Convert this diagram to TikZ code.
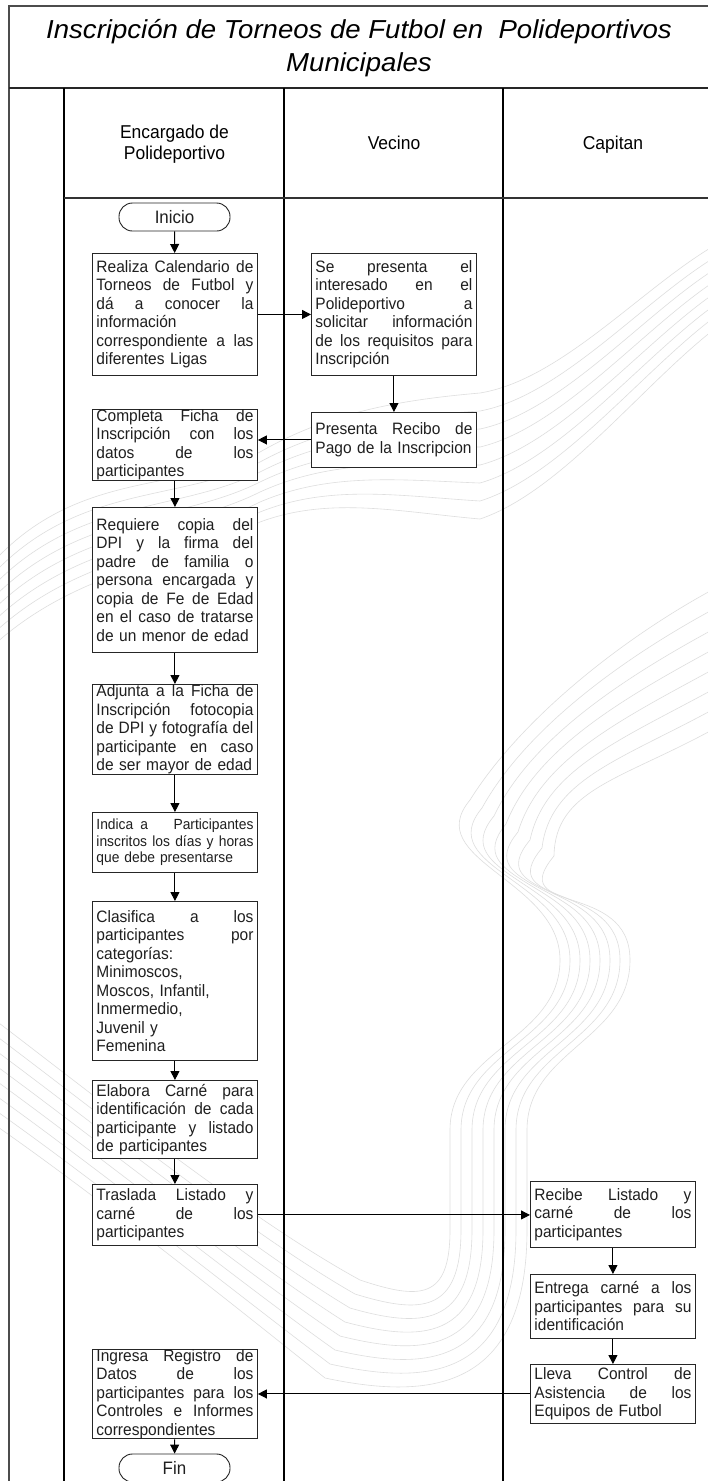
\documentclass[tikz,border=0pt]{standalone}
\usepackage{fontspec}
\setmainfont{Liberation Sans}[FakeStretch=0.94]
\newfontfamily\titlefont{Liberation Sans}[FakeStretch=1.06]
\usetikzlibrary{arrows.meta,calc}

% width of the text block inside every process box
\newlength\bw \setlength\bw{157pt}
% a fully justified line inside a box
\newcommand\jl[1]{\makebox[\bw][s]{\spaceskip=.28em plus 1fil\relax #1}}

\begin{document}
\begin{tikzpicture}[x=1pt,y=-1pt,
  every node/.style={font=\fontsize{16.5}{18.5}\selectfont},
  proc/.style={draw=black!85, fill=white, line width=0.9pt, minimum width=165pt,
    text width=157pt, inner xsep=4pt, inner ysep=0pt, align=left,
    anchor=north west, text=black!88},
  small/.style={font=\fontsize{14.7}{16.5}\selectfont},
  term/.style={draw=black!85, fill=white, line width=0.9pt, rounded corners=13.5pt,
    minimum width=111pt, minimum height=28pt, inner sep=0pt, text=black!88,
    font=\fontsize{18}{20}\selectfont},
  arr/.style={line width=1pt, -{Triangle[length=9pt,width=9pt]}},
  lane/.style={line width=1.3pt},
  frame/.style={line width=1.7pt, draw=black!70},
  head/.style={font=\fontsize{18.6}{20.5}\selectfont, align=center},
  wm/.style={draw=black!13, line width=0.6pt}
]
\useasboundingbox (0,0) rectangle (708,1481);
\fill[white] (0,0) rectangle (708,1481);

% faint background ribbons
\foreach \i in {0,...,7}{
  \draw[wm] (712,{247+12*\i}) .. controls (640,{290+14*\i}) and (560,{380+16*\i}) .. (480,{393+18*\i})
    .. controls (400,{400+16*\i}) and (330,{412+12*\i}) .. (260,{452+10*\i})
    .. controls (180,{492+10*\i}) and (80,{470+14*\i}) .. (-5,{560+12*\i});
  \draw[wm] (712,{590+20*\i}) .. controls (620,{640+20*\i}) and ({520+5*\i},{720+10*\i}) .. ({470+12*\i},{800+8*\i})
    .. controls ({420+12*\i},{860+8*\i}) and ({560+10*\i},880) .. ({560+10*\i},960)
    .. controls ({560+10*\i},1040) and ({450+11*\i},1050) .. ({450+11*\i},1130)
    -- ({450+11*\i},1230)
    .. controls ({450+11*\i},{1300+14*\i}) and (420,{1300+14*\i}) .. ({360-5*\i},{1280+14*\i})
    .. controls (250,{1220+14*\i}) and (100,{1100+14*\i}) .. (-5,{1020+15*\i});
}

% frame and swimlanes
\draw[frame] (9,1481) -- (9,6) -- (708,6);
\draw[frame, draw=black!85, line width=2pt] (9,88) -- (708,88);
\draw[lane] (64,88) -- (64,1481);
\draw[lane] (284,88) -- (284,1481);
\draw[lane] (503,88) -- (503,1481);
\draw[line width=1.1pt, draw=black!80] (64,198) -- (708,198);

\node[align=center, font=\titlefont\itshape\fontsize{26}{33}\selectfont] (title) at (359,48)
  {Inscripción de Torneos de Futbol en\ \ Polideportivos\\Municipales};
\node[head] (h1) at (174.5,144) {Encargado de\\Polideportivo};
\node[head, anchor=base] (h2) at (394,149) {Vecino};
\node[head, anchor=base] (h3) at (613,149) {Capitan};

% Encargado de Polideportivo
\node[term] (ini) at (174.5,217) {Inicio};
\node[proc, minimum height=122pt] (b1) at (92,253)
  {\jl{Realiza Calendario de}\\\jl{Torneos de Futbol y}\\\jl{dá a conocer la}\\información\\\jl{correspondiente a las}\\diferentes Ligas};
\node[proc, minimum height=71pt] (b2) at (92,409)
  {\jl{Completa Ficha de}\\\jl{Inscripción con los}\\\jl{datos de los}\\participantes};
\node[proc, minimum height=145pt] (b3) at (92,507)
  {\jl{Requiere copia del}\\\jl{DPI y la firma del}\\\jl{padre de familia o}\\\jl{persona encargada y}\\\jl{copia de Fe de Edad}\\\jl{en el caso de tratarse}\\de un menor de edad};
\node[proc, minimum height=90pt] (b4) at (92,684)
  {\jl{Adjunta a la Ficha de}\\\jl{Inscripción fotocopia}\\\jl{de DPI y fotografía del}\\\jl{participante en caso}\\de ser mayor de edad};
\node[proc, small, minimum height=60pt] (b5) at (92,812)
  {\hbox to\bw{Indica\hspace{7pt}a\hfill Participantes}\\\jl{inscritos los días y horas}\\que debe presentarse};
\node[proc, minimum height=159pt] (b6) at (92,901)
  {\jl{Clasifica a los}\\\jl{participantes por}\\categorías:\\Minimoscos,\\Moscos, Infantil,\\Inmermedio,\\Juvenil y\\Femenina};
\node[proc, minimum height=78pt] (b7) at (92,1080)
  {\jl{Elabora Carné para}\\\jl{identificación de cada}\\\jl{participante y listado}\\de participantes};
\node[proc, minimum height=61pt] (b8) at (92,1184)
  {\jl{Traslada Listado y}\\\jl{carné de los}\\participantes};
\node[proc, minimum height=89pt] (b9) at (92,1349)
  {\jl{Ingresa Registro de}\\\jl{Datos de los}\\\jl{participantes para los}\\\jl{Controles e Informes}\\correspondientes};
\node[term] (fin) at (174.5,1468) {Fin};

% Vecino
\node[proc, minimum height=122pt] (v1) at (311,253)
  {\jl{Se presenta el}\\\jl{interesado en el}\\\jl{Polideportivo a}\\\jl{solicitar información}\\\jl{de los requisitos para}\\Inscripción};
\node[proc, minimum height=55pt] (v2) at (311,412)
  {\jl{Presenta Recibo de}\\Pago de la Inscripcion};

% Capitan
\node[proc, minimum height=66pt] (c1) at (530,1181)
  {\jl{Recibe Listado y}\\\jl{carné de los}\\participantes};
\node[proc, minimum height=64pt] (c2) at (530,1274)
  {\jl{Entrega carné a los}\\\jl{participantes para su}\\identificación};
\node[proc, minimum height=59pt] (c3) at (530,1364)
  {\jl{Lleva Control de}\\\jl{Asistencia de los}\\Equipos de Futbol};

% flow
\draw[arr] (ini) -- (b1);
\draw[arr] (b1.east) -- (b1.east -| v1.west);
\draw[arr] (v1) -- (v2);
\draw[arr] (v2.west) -- (v2.west -| b2.east);
\draw[arr] (b2) -- (b3);
\draw[arr] (b3) -- (b4);
\draw[arr] (b4) -- (b5);
\draw[arr] (b5) -- (b6);
\draw[arr] (b6) -- (b7);
\draw[arr] (b7) -- (b8);
\draw[arr] (b8.east) -- (b8.east -| c1.west);
\draw[arr] (c1) -- (c2);
\draw[arr] (c2) -- (c3);
\draw[arr] (c3.west) -- (c3.west -| b9.east);
\draw[arr] (b9) -- (fin);
\end{tikzpicture}
\end{document}
